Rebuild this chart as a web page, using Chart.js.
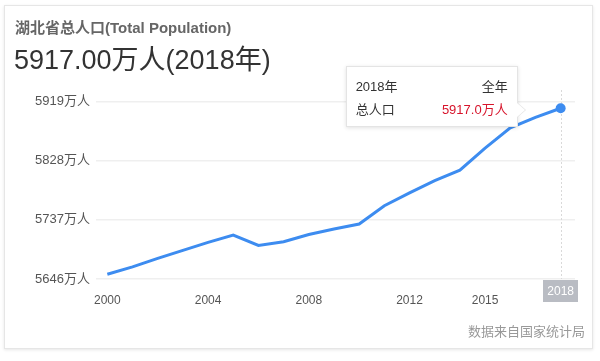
<!DOCTYPE html>
<html>
<head>
<meta charset="utf-8">
<script src="https://cdn.jsdelivr.net/npm/chart.js@4/dist/chart.umd.min.js"></script>
<style>
  html, body { margin:0; padding:0; background:#fff; width:600px; height:361px; overflow:hidden;
    font-family: "Liberation Sans", Arial, "Noto Sans CJK SC", sans-serif; }
  #card { position:absolute; left:4px; top:5px; width:589px; height:344px; border:1px solid #e6e6e6;
    box-shadow:0 1px 3px rgba(0,0,0,0.10); background:#fff; box-sizing:border-box; }
  #wrap { position:absolute; left:0; top:0; width:600px; height:361px; }
  #title { position:absolute; left:15px; top:18px; font-size:15px; font-weight:bold; color:#666; white-space:nowrap; line-height:20px; }
  #big { position:absolute; left:14px; top:42px; font-size:27px; color:#333; white-space:nowrap; line-height:36px; }
  #source { position:absolute; right:15px; top:322px; font-size:13px; color:#999; white-space:nowrap; line-height:20px; }
  #tip { position:absolute; width:172px; height:61px; background:#fff; border:1px solid #e4e4e4;
    box-shadow:0 1px 4px rgba(0,0,0,0.12); box-sizing:border-box; font-size:13px; color:#333; }
  #tip .row { position:absolute; left:9px; right:9px; height:18px; line-height:18px; }
  #tip .r { position:absolute; right:0; top:0; }
  #tip .val { color:#d7142b; }
  #arrow { position:absolute; width:0; height:0; border-top:7px solid transparent; border-bottom:7px solid transparent;
    border-left:8px solid #fff; filter:drop-shadow(1px 0 0 #e4e4e4); }
</style>
</head>
<body>
<div id="card"></div>
<div id="wrap"><canvas id="c" width="600" height="361"></canvas></div>
<div id="title">湖北省总人口(Total Population)</div>
<div id="big"></div>
<div id="source">数据来自国家统计局</div>
<div id="tip">
  <div class="row" style="top:11px"><span id="tYear"></span><span class="r">全年</span></div>
  <div class="row" style="top:34px"><span>总人口</span><span class="r val" id="tVal"></span></div>
</div>
<div id="arrow"></div>
<script>
const years = [2000,2001,2002,2003,2004,2005,2006,2007,2008,2009,2010,2011,2012,2013,2014,2015,2016,2017,2018];
const population = [5646,5658,5672,5685,5698,5710,5693,5699,5711,5720,5728,5758,5779,5799,5816,5852,5885,5902,5917];
const xTickValues = [2000,2004,2008,2012,2015];
const yTickLabels = ["5646万人","5737万人","5828万人","5919万人"];
const yMin = 5638.3, yMax = 5927.7;
const xMin = 1999.55, xMax = 2018.57;
const lastIdx = years.length - 1;

document.getElementById('big').textContent = population[lastIdx].toFixed(2) + '万人(' + years[lastIdx] + '年)';
document.getElementById('tYear').textContent = years[lastIdx] + '年';
document.getElementById('tVal').textContent = population[lastIdx].toFixed(1) + '万人';

const lineColor = '#3d8cf0';
const FONT = '"Liberation Sans", Arial, "Noto Sans CJK SC", sans-serif';

const overlay = {
  id: 'overlay',
  beforeDatasetsDraw(chart) {
    const ctx = chart.ctx;
    const x = chart.scales.x.getPixelForValue(years[lastIdx]);
    ctx.save();
    ctx.strokeStyle = '#d9d9d9';
    ctx.lineWidth = 1;
    ctx.setLineDash([2, 2]);
    ctx.beginPath();
    ctx.moveTo(Math.round(x) + 0.5, 90);
    ctx.lineTo(Math.round(x) + 0.5, chart.chartArea.bottom);
    ctx.stroke();
    ctx.restore();
  },
  afterDraw(chart) {
    const ctx = chart.ctx;
    const x = chart.scales.x.getPixelForValue(years[lastIdx]);
    const yb = chart.chartArea.bottom;
    ctx.save();
    ctx.fillStyle = '#b9bcc3';
    ctx.fillRect(Math.round(x - 17.5), yb + 1, 35, 22);
    ctx.fillStyle = '#fff';
    ctx.font = '12px ' + FONT;
    ctx.textAlign = 'center';
    ctx.textBaseline = 'middle';
    ctx.fillText(String(years[lastIdx]), x, yb + 12.5);
    ctx.restore();
    // position tooltip relative to the last point
    const py = chart.scales.y.getPixelForValue(population[lastIdx]);
    const tip = document.getElementById('tip');
    const left = x - 43 - 172;
    const top = py - 42.5;
    tip.style.left = left + 'px';
    tip.style.top = top + 'px';
    const ar = document.getElementById('arrow');
    ar.style.left = (left + 171) + 'px';
    ar.style.top = (top + 37) + 'px';
  }
};

new Chart(document.getElementById('c'), {
  type: 'line',
  data: {
    datasets: [{
      data: years.map((y, i) => ({ x: y, y: population[i] })),
      borderColor: lineColor,
      backgroundColor: lineColor,
      borderWidth: 3,
      tension: 0,
      pointRadius: years.map((y, i) => i === lastIdx ? 5 : 0),
      pointHoverRadius: 5,
      pointBorderWidth: 0,
      fill: false
    }]
  },
  options: {
    responsive: false,
    animation: false,
    events: [],
    layout: { padding: { left: 0, top: 101.7, right: 25, bottom: 52 } },
    plugins: { legend: { display: false }, tooltip: { enabled: false } },
    scales: {
      x: {
        type: 'linear',
        min: xMin, max: xMax,
        afterBuildTicks(scale) { scale.ticks = xTickValues.map(v => ({ value: v })); },
        afterFit(scale) { scale.height = 30; },
        grid: { display: false, drawTicks: false },
        border: { display: false },
        ticks: {
          padding: 14,
          color: '#555',
          font: { size: 12, family: FONT },
          maxRotation: 0,
          autoSkip: false,
          callback: (v) => String(v)
        }
      },
      y: {
        min: yMin, max: yMax,
        afterBuildTicks(scale) {
          const step = (yMax - yMin) / (yTickLabels.length - 1);
          scale.ticks = yTickLabels.map((l, i) => ({ value: yMin + i * step }));
        },
        afterFit(scale) { scale.width = 96; },
        grid: { color: '#efefef', lineWidth: 1.5, drawTicks: false },
        border: { display: false },
        ticks: {
          padding: 6,
          color: '#555',
          font: { size: 13, family: FONT },
          callback: (v, i) => yTickLabels[i]
        }
      }
    }
  },
  plugins: [overlay]
});
</script>
</body>
</html>
